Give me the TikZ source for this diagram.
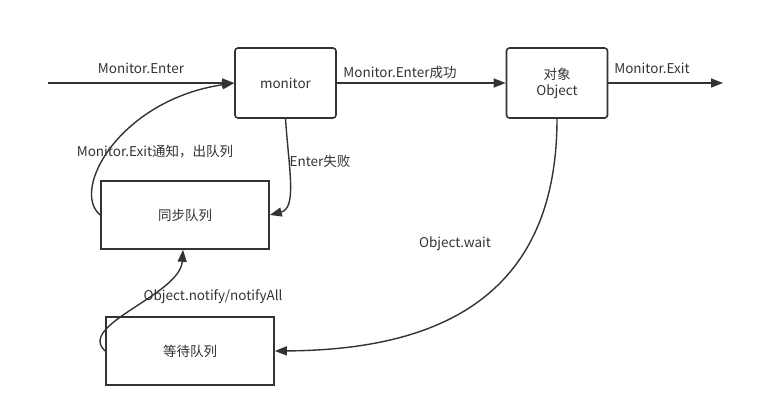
\documentclass[tikz,border=0pt]{standalone}
\usepackage{fontspec}
\setmainfont{Noto Sans CJK SC}
\usetikzlibrary{positioning,arrows.meta}
\definecolor{ink}{HTML}{333333}
\tikzset{
    monflow/.style={
        x=1pt, y=-1pt,
        font=\fontsize{13.5}{16}\selectfont,
        text=ink,
        % box arrotondato (monitor, oggetto)
        lockbox/.style={draw=ink, line width=1.6pt, rounded corners=3pt,
                        align=center, minimum width=101pt, minimum height=70pt,
                        inner sep=1pt},
        % code (sincronizzazione, attesa)
        queuebox/.style={draw=ink, line width=1.6pt, rectangle,
                         minimum width=168pt, minimum height=68pt},
        % etichette delle frecce
        lbl/.style={inner sep=1pt},
        flowline/.style={draw=ink, line width=1.4pt,
                         -{Triangle[length=12pt, width=9pt]}}
    }
}
\begin{document}
\begin{tikzpicture}[monflow]
  \useasboundingbox (0,0) rectangle (765,417);
  % Nodi
  \node[lockbox] (mon) at (285.5,83) {monitor};
  \node[lockbox] (obj) at (557,83) {对象\\Object};
  \node[queuebox] (sync) at (185,215) {同步队列};
  \node[queuebox] (wait) at (190,351) {等待队列};
  \coordinate (in) at (48,83);
  \coordinate (out) at (723,83);

  % Frecce
  \draw[flowline] (in) -- (mon);
  \draw[flowline] (mon) -- (obj);
  \draw[flowline] (obj) -- (out);
  \draw[flowline] (mon.south) .. controls (289,170) and (297,208) .. (sync.east);
  \draw[flowline] (sync.west) .. controls (70,190) and (120,100) .. (mon.west);
  \draw[flowline] (wait.west) .. controls (76,325) and (180,295) .. ([xshift=-2pt]sync.south);
  \draw[flowline] (obj.south) .. controls (557,310) and (420,350) .. (wait.east);

  % Etichette
  \node[lbl] (lenter) at (141,68) {Monitor.Enter};
  \node[lbl] (lok) at (400,72) {Monitor.Enter成功};
  \node[lbl] (lexit) at (652,68) {Monitor.Exit};
  \node[lbl] (lnotexit) at (155,152) {Monitor.Exit通知，出队列};
  \node[lbl] (lfail) at (320,161) {Enter失败};
  \node[lbl] (lnotify) at (213,297) {Object.notify/notifyAll};
  \node[lbl] (lwait) at (455,244) {Object.wait};
\end{tikzpicture}
\end{document}
